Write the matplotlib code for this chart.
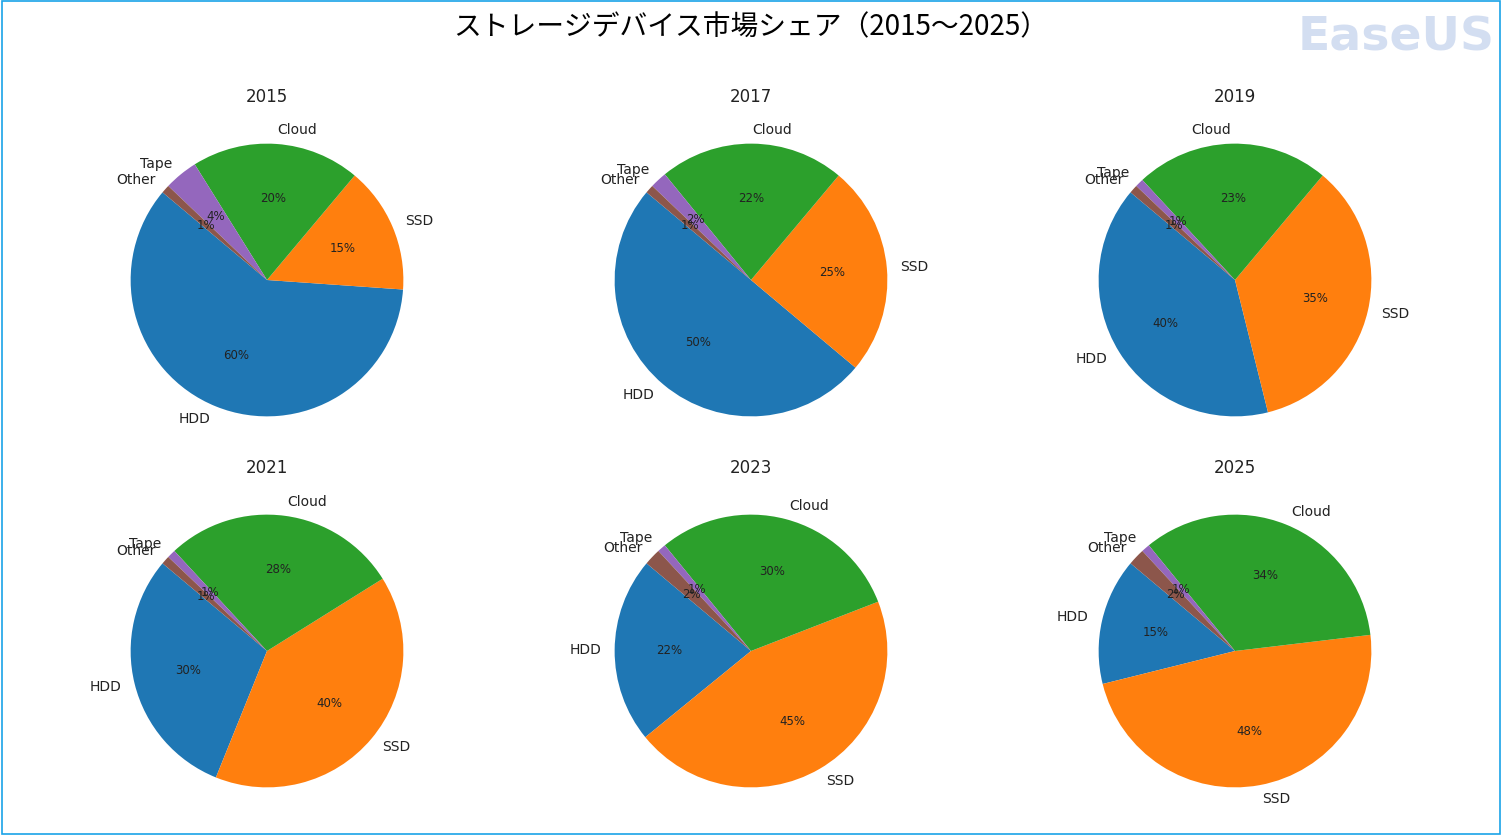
import matplotlib.pyplot as plt
from matplotlib.patches import Rectangle

years = ["2015", "2017", "2019", "2021", "2023", "2025"]
labels = ["HDD", "SSD", "Cloud", "Tape", "Other"]
hdd = [60, 50, 40, 30, 22, 15]
ssd = [15, 25, 35, 40, 45, 48]
cloud = [20, 22, 23, 28, 30, 34]
tape = [4, 2, 1, 1, 1, 1]
other = [1, 1, 1, 1, 2, 2]
colors = ["#1f77b4", "#ff7f0e", "#2ca02c", "#9467bd", "#8c564b"]

W, H = 1502, 835
fig = plt.figure(figsize=(W / 100, H / 100), dpi=100)

# pie centres in pixels; axes box = 2.2 * radius
centres = [(267, 280), (751, 280), (1235, 280), (267, 651), (751, 651), (1235, 651)]
box = 300

for i, (cx, cy) in enumerate(centres):
    ax = fig.add_axes([(cx - box / 2) / W, 1 - (cy + box / 2) / H, box / W, box / H])
    vals = [hdd[i], ssd[i], cloud[i], tape[i], other[i]]
    ax.pie(vals, labels=labels, colors=colors, autopct="%1.0f%%", startangle=140,
           textprops={"fontsize": 10, "color": "#222222"})
    for t in ax.texts:
        if "%" in t.get_text():
            t.set_fontsize(8.5)
    ax.set_title(years[i], fontsize=12, pad=20, color="#222222")
    ax.axis("equal")

fig.suptitle("ストレージデバイス市場シェア（2015～2025）", fontsize=20,
             fontfamily="Noto Sans CJK JP", y=0.985)
fig.text(0.995, 0.955, "EaseUS", ha="right", va="center", fontsize=34,
         fontweight="bold", color="#c9d6ee", alpha=0.8)
fig.patches.append(Rectangle((0.001, 0.001), 0.998, 0.998, transform=fig.transFigure,
                             fill=False, edgecolor="#1aa3e8", linewidth=1.2))

fig.savefig("out.png", dpi=100)
